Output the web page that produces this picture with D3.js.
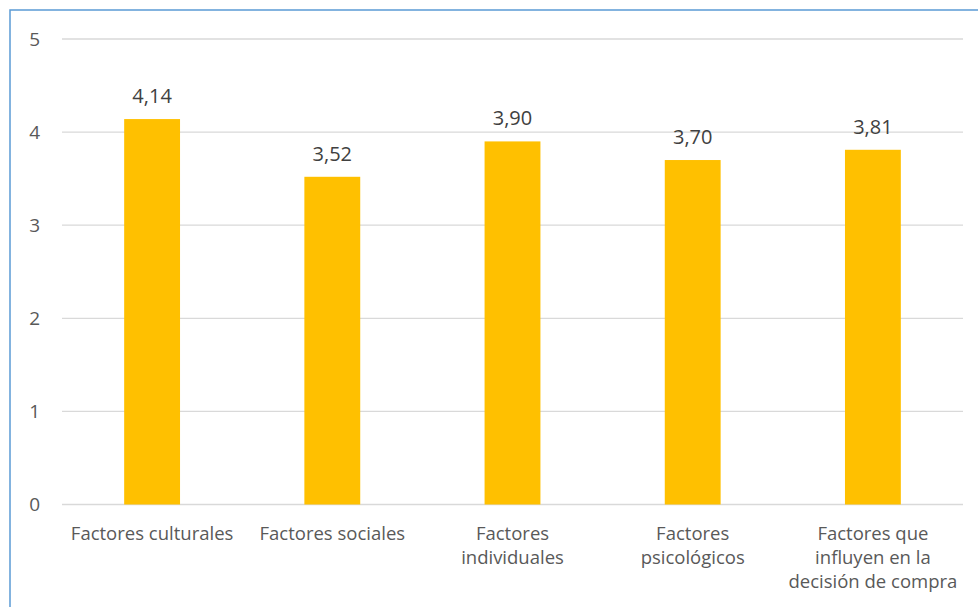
<!DOCTYPE html>
<html>
<head>
<meta charset="utf-8">
<script src="https://cdn.jsdelivr.net/npm/d3@7"></script>
<style>
  html, body { margin: 0; padding: 0; background: #fff; }
  svg { display: block; font-family: "Open Sans", "Noto Sans", sans-serif; }
</style>
</head>
<body>
<svg id="chart" width="978" height="607"></svg>
<script>
// Average score per factor group (scale 0–5)
const categories = [
  "Factores culturales",
  "Factores sociales",
  "Factores individuales",
  "Factores psicológicos",
  "Factores que influyen en la decisión de compra"
];
// Wrapped category labels as drawn under the axis
const categoryLines = [
  ["Factores culturales"],
  ["Factores sociales"],
  ["Factores", "individuales"],
  ["Factores", "psicológicos"],
  ["Factores que", "influyen en la", "decisión de compra"]
];
const values = [4.14, 3.52, 3.90, 3.70, 3.81];
const valueLabels = ["4,14", "3,52", "3,90", "3,70", "3,81"];
const yTicks = [0, 1, 2, 3, 4, 5];

const svg = d3.select("#chart");
const W = 978, H = 607;
const plot = { left: 62, right: 963, top: 39, bottom: 504.5 };

// Outer chart frame
svg.append("rect")
  .attr("x", 10).attr("y", 10)
  .attr("width", W + 10).attr("height", H + 10)
  .attr("fill", "#fff")
  .attr("stroke", "#5B9BD5").attr("stroke-width", 1.5);

const x = d3.scaleBand()
  .domain(categories)
  .range([plot.left, plot.right])
  .paddingInner(0.69).paddingOuter(0.345);

const y = d3.scaleLinear().domain([0, 5]).range([plot.bottom, plot.top]);

// Horizontal gridlines
svg.append("g")
  .selectAll("line")
  .data(yTicks)
  .join("line")
  .attr("x1", plot.left).attr("x2", plot.right)
  .attr("y1", d => y(d)).attr("y2", d => y(d))
  .attr("stroke", "#d9d9d9").attr("stroke-width", 1.3);

// Y axis labels
const yAxis = d3.axisLeft(y).tickValues(yTicks).tickSize(0).tickPadding(0).tickFormat(d3.format("d"));
const gy = svg.append("g").attr("transform", "translate(40,0)").call(yAxis);
gy.select(".domain").remove();
gy.selectAll("text")
  .attr("fill", "#595959")
  .style("font-size", "19px")
  .style("font-family", "'Open Sans', sans-serif");

// Bars
svg.append("g")
  .selectAll("rect")
  .data(values)
  .join("rect")
  .attr("x", (d, i) => x(categories[i]))
  .attr("width", x.bandwidth())
  .attr("y", d => y(d))
  .attr("height", d => y(0) - y(d))
  .attr("fill", "#FFC000");

// Value labels above bars
svg.append("g")
  .selectAll("text")
  .data(values)
  .join("text")
  .attr("x", (d, i) => x(categories[i]) + x.bandwidth() / 2)
  .attr("y", d => y(d) - 16)
  .attr("text-anchor", "middle")
  .attr("fill", "#404040")
  .style("font-size", "20px")
  .text((d, i) => valueLabels[i]);

// Category labels (wrapped)
const cat = svg.append("g")
  .selectAll("text")
  .data(categories)
  .join("text")
  .attr("x", d => x(d) + x.bandwidth() / 2)
  .attr("y", 540)
  .attr("text-anchor", "middle")
  .attr("fill", "#595959")
  .style("font-size", "18.5px");
cat.each(function (d, i) {
  d3.select(this).selectAll("tspan")
    .data(categoryLines[i])
    .join("tspan")
    .attr("x", x(d) + x.bandwidth() / 2)
    .attr("dy", (t, j) => j === 0 ? 0 : 24)
    .text(t => t);
});
</script>
</body>
</html>
